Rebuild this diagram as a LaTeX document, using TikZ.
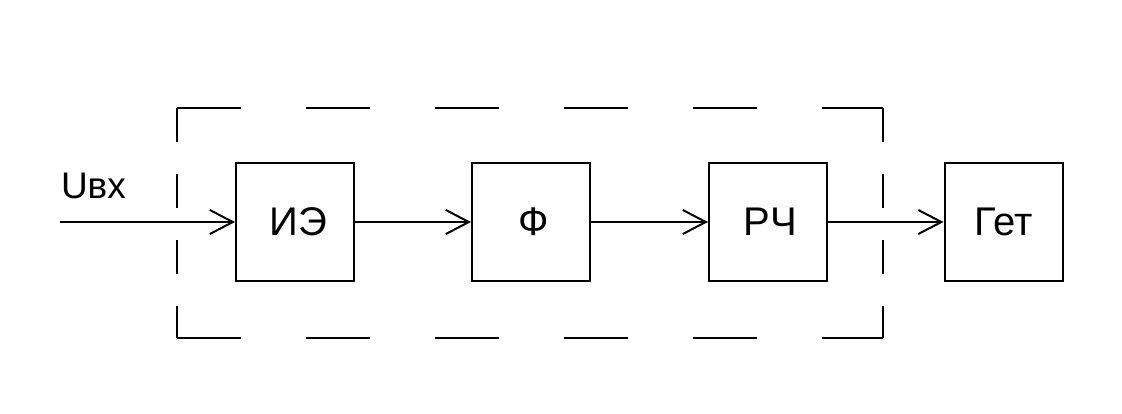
\documentclass[tikz,border=0pt]{standalone}
\usepackage{fontspec}
\setmainfont{Liberation Sans}
\usetikzlibrary{arrows.meta}
\begin{document}
\begin{tikzpicture}[x=1pt,y=-1pt,line width=2pt,
  blk/.style={draw,minimum width=118pt,minimum height=118pt,inner sep=0pt,font=\fontsize{40}{40}\selectfont},
  conn/.style={-{Straight Barb[length=23pt,width=24pt,line width=2pt]}},
  hdash/.style={dash pattern=on 64pt off 65pt},
  vdash/.style={dash pattern=on 34pt off 32pt}]
\useasboundingbox (0,0) rectangle (1122,413);
\node[blk] (ie) at (295,222) {\kern6pt ИЭ};
\node[blk] (f) at (531,222) {\kern6pt Ф};
\node[blk] (rch) at (768,222) {\kern5pt РЧ};
\node[blk] (get) at (1003.5,222) {Гет};
\coordinate (in) at (60,222);
\node[anchor=base west,inner sep=0pt,font=\fontsize{37}{37}\selectfont] (uin) at (60,198) {Uвх};
\draw[conn] (in) -- (ie.west);
\draw[conn] (ie.east) -- (f.west);
\draw[conn] (f.east) -- (rch.west);
\draw[conn] (rch.east) -- (get.west);
\coordinate (tl) at (177,108);
\coordinate (tr) at (883,108);
\coordinate (bl) at (177,338);
\coordinate (br) at (883,338);
\draw[hdash] (tl) -- (tr);
\draw[hdash] (bl) -- (br);
\draw[vdash] (tl) -- (bl);
\draw[vdash] (tr) -- (br);
\end{tikzpicture}
\end{document}
